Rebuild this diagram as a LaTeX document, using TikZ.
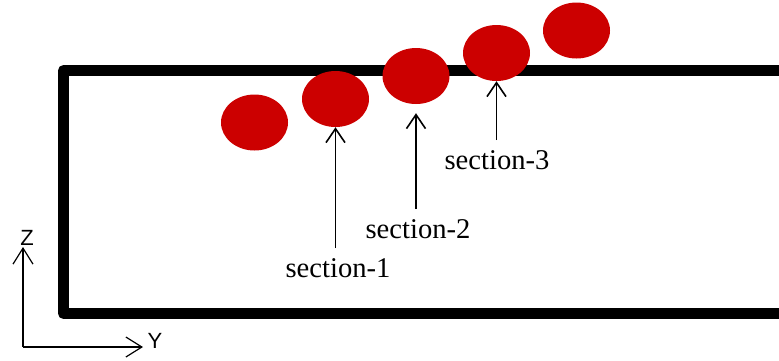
\documentclass[tikz,border=0pt]{standalone}
\usepackage{fontspec}
\setmainfont{Liberation Serif}
\newfontfamily\axisfont{Liberation Sans}
\usetikzlibrary{arrows.meta,shapes.geometric}
\definecolor{dotred}{HTML}{CC0000}
\begin{document}
\begin{tikzpicture}[x=1pt,y=-1pt,
  blob/.style={ellipse,fill=dotred,minimum width=67pt,minimum height=56pt,inner sep=0pt},
  seclabel/.style={font=\fontsize{28.6}{32}\selectfont,inner sep=1pt},
  axlabel/.style={font=\axisfont\fontsize{22}{24}\selectfont,inner sep=0pt},
  secarrow/.style={line width=1.6pt,-{Straight Barb[length=14pt,width=19pt,line width=1.6pt]}},
  axarrow/.style={line width=1.2pt,-{Straight Barb[length=16pt,width=20pt,line width=1.2pt]}}]
\useasboundingbox (0,0) rectangle (779,360);
\begin{scope}
\clip (0,0) rectangle (779,360);
\draw[line width=11pt,line join=round] (800,70.5) -- (63.5,70.5) -- (63.5,313.5) -- (800,313.5);
\end{scope}
\node[blob] (e1) at (254.5,122.5) {};
\node[blob] (e2) at (335.5,99) {};
\node[blob] (e3) at (416,76) {};
\node[blob] (e4) at (496.5,53) {};
\node[blob] (e5) at (576.5,30.5) {};
\node[seclabel] (s1) at (338,268) {section-1};
\node[seclabel] (s2) at (418,229) {section-2};
\node[seclabel] (s3) at (497,160) {section-3};
\draw[secarrow] ([yshift=9pt]e2.south |- s1.north) -- (e2.south);
\draw[secarrow,shorten >=9pt] ([yshift=9pt]e3.south |- s2.north) -- (e3.south);
\draw[secarrow] ([yshift=9pt]e4.south |- s3.north) -- (e4.south);
\coordinate (o) at (23,347);
\coordinate (ztip) at (23,247);
\coordinate (ytip) at (143,347);
\node[axlabel] (z) at (27,238) {Z};
\node[axlabel] (y) at (155,341) {Y};
\draw[axarrow] (o) -- (ztip);
\draw[axarrow] (o) -- (ytip);
\end{tikzpicture}
\end{document}
